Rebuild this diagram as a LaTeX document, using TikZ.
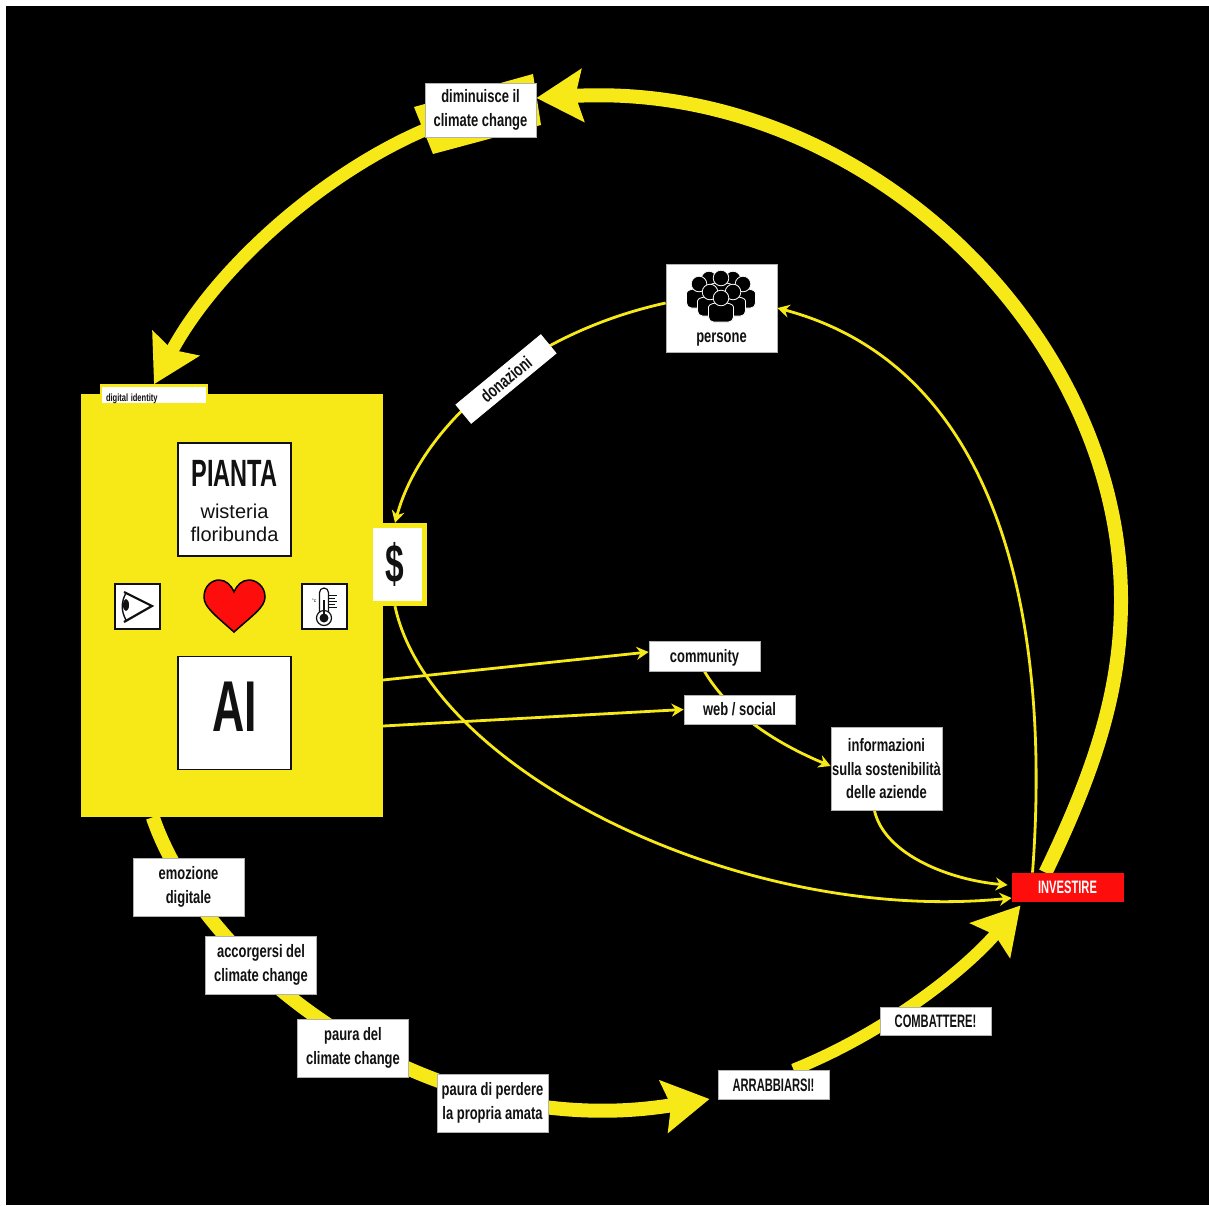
\documentclass[tikz,border=0pt]{standalone}
\usepackage{fontspec}
\setmainfont{Liberation Sans}
\newfontfamily\dinfont[FakeStretch=0.72]{Liberation Sans}
\newfontfamily\dincaps[FakeStretch=0.62]{Liberation Sans}
\usepackage{xcolor}
\usepackage{tikz}
\usetikzlibrary{arrows.meta,backgrounds}
\definecolor{cYellow}{HTML}{F7E918}
\definecolor{cRed}{HTML}{FE0D0D}
\definecolor{cInk}{HTML}{111111}
\tikzstyle{tsLabel} = [
    rectangle,
    fill=white,
    draw=gray!60,
    line width=0.8pt,
    text=cInk,
    inner sep=0pt,
    align=center,
    minimum width=111pt,
    font=\dinfont\bfseries\fontsize{18}{23.5}\selectfont
]
\tikzstyle{tsCaps} = [
    tsLabel,
    text height=13pt,
    text depth=0pt,
    font=\dincaps\bfseries\fontsize{18}{23.5}\selectfont
]
\tikzstyle{tsBlock} = [
    rectangle,
    fill=white,
    draw=cInk,
    line width=1.5pt,
    inner sep=0pt,
    align=center,
    text=cInk
]
\tikzstyle{tsThick} = [
    draw=cYellow,
    line width=14pt,
    -{Stealth[length=46pt,width=52pt,inset=7pt,fill=cYellow]}
]
\tikzstyle{tsThin} = [
    draw=cYellow,
    line width=2.8pt,
    -{Stealth[length=12pt,width=13pt,inset=4pt,fill=cYellow]}
]

\begin{document}
\begin{tikzpicture}[x=1pt,y=-1pt]
        \useasboundingbox (0,0) rectangle (1209,1205);

        % main yellow block
        \node[rectangle, fill=cYellow, minimum width=302pt, minimum height=423pt, inner sep=0pt] (plant) at (232,605.5) { };
        \node[rectangle, fill=white, draw=cYellow, line width=2.5pt, inner sep=0pt, minimum width=106pt, minimum height=19pt,
              text=cInk, text width=96pt, text height=13pt, text depth=1pt, align=left, font=\dinfont\bfseries\fontsize{10.5}{12}\selectfont] (digital) at (154,395) {digital\hspace{-1pt} identity};
        \node[tsBlock, minimum width=113pt, minimum height=113pt] (pianta) at (234.5,499.5) {};
        \node[text=cInk, inner sep=0pt, font=\dincaps\bfseries\fontsize{38}{40}\selectfont] (piantaname) at (234.5,473) {PIANTA};
        \node[text=cInk, inner sep=0pt, align=center, font=\fontsize{20}{23.5}\selectfont] (wisteria) at (234.5,523) {wisteria\\floribunda};
        \node[tsBlock, minimum width=113pt, minimum height=113pt] (ai) at (234.5,713) {};
        \node[text=cInk, inner sep=0pt, font=\dincaps\bfseries\fontsize{72}{72}\selectfont] (ainame) at (234.5,707) {AI};
        \node[tsBlock, minimum width=45pt, minimum height=45pt] (eye) at (137.5,606.5) {};
        \node[tsBlock, minimum width=45pt, minimum height=45pt] (thermo) at (324.5,606.5) {};
        \node[rectangle, fill=cYellow, inner sep=0pt, minimum width=54pt, minimum height=83pt] (dollarback) at (400,564.5) {};
        \node[rectangle, fill=white, inner sep=0pt, minimum width=49pt, minimum height=73pt,
              text=cInk, font=\dincaps\bfseries\fontsize{54}{54}\selectfont] (dollar) at (397.5,564.5) {\$\kern5pt};

        % labels
        \node[tsLabel, minimum height=54pt] (diminuisce) at (480.5,110) {diminuisce il\\climate change};
        \node[tsLabel, minimum height=88pt] (persone) at (721.5,308) {};
        \node[inner sep=0pt, text=cInk, font=\dinfont\bfseries\fontsize{18}{20}\selectfont] (personename) at (721.5,340) {persone};
        \node[tsLabel, fill=white, draw=white, minimum width=110pt, minimum height=24pt, rotate=39.5] (donazioni) at (506,379) {donazioni};
        \node[tsLabel, minimum height=30pt, text height=14pt, text depth=2pt] (community) at (704.5,656) {community};
        \node[tsLabel, minimum height=29pt] (web) at (739.5,709.5) {web / social};
        \node[tsLabel, minimum height=83pt] (info) at (886.5,769) {informazioni\\sulla sostenibilità\\delle aziende};
        \node[tsCaps, fill=cRed, draw=cRed, text=white, minimum height=28pt] (investire) at (1067.5,887) {INVESTIRE};
        \node[tsLabel, minimum height=58pt] (emozione) at (188.5,887) {emozione\\digitale};
        \node[tsLabel, minimum height=58pt] (accorgersi) at (261,965) {accorgersi del\\climate change};
        \node[tsLabel, minimum height=58pt] (paura) at (353,1048) {paura del\\climate change};
        \node[tsLabel, minimum height=58pt] (perdere) at (492.5,1103) {paura di perdere\\la propria amata};
        \node[tsCaps, minimum height=29pt] (arrabbiarsi) at (773.5,1084.5) {ARRABBIARSI!};
        \node[tsCaps, minimum height=28pt] (combattere) at (935.5,1021) {COMBATTERE!};

        % connectors go under the nodes
        \begin{scope}[on background layer]
        \fill[black] (6,6) rectangle (1209,1205);

        \fill[cYellow] (414,107) -- (533,74) -- (541,125) -- (433,154) -- cycle;
        \draw[tsThick] ([xshift=-22pt]investire.north) .. controls (1095,770) and (1121,690) .. (1121,600)
                       .. controls (1121,330) and (860,80) .. ([yshift=12pt]diminuisce.east);
        \draw[tsThick, line width=13pt] ([yshift=-20pt]diminuisce.west) .. controls (320,175) and (215,270) .. (digital.north);
        \draw[tsThick] (plant.south west) ++(72,0) .. controls (205,970) and (430,1145) .. ([xshift=-8pt,yshift=-14.5pt]arrabbiarsi.west);
        \draw[tsThick, line width=12pt] (arrabbiarsi.north) ++(20,0) .. controls (880,1035) and (960,975) .. ([xshift=-47pt,yshift=-4pt]investire.south);

        \draw[tsThin] ([yshift=5pt]persone.west) .. controls (520,335) and (420,430) .. ([xshift=-5pt]dollarback.north);
        \draw[tsThin] ([xshift=-35pt]investire.north) .. controls (1050,640) and (1010,370) .. (persone.east);
        \draw[tsThin] ([xshift=-5pt]dollarback.south) .. controls (430,770) and (740,925) .. ([yshift=-11pt]investire.west);
        \draw[tsThin] (383,680) -- ([yshift=4pt]community.west);
        \draw[tsThin] (383,726) -- (web.west);
        \draw[tsThin] (community.south) .. controls (730,715) and (780,745) .. ([yshift=3pt]info.west);
        \draw[tsThin] ([xshift=-12pt]info.south) .. controls (885,855) and (950,880) .. ([xshift=-4pt,yshift=2pt]investire.west);
        \end{scope}

        % heart
        \draw[fill=cRed, draw=black, line width=1.5pt] (234,632) .. controls (215,615) and (204,607) .. (204,597)
            .. controls (204,586) and (212,580) .. (219,580) .. controls (226,580) and (231,585) .. (234,592)
            .. controls (237,585) and (242,580) .. (249,580) .. controls (256,580) and (265,586) .. (265,597)
            .. controls (265,607) and (253,615) .. (234,632) -- cycle;

        % eye
        \draw[cInk, line width=2.2pt] (124,592) -- (152,606) -- (124,622);
        \draw[cInk, line width=1.4pt] (126,593) .. controls (121,602) and (121,611) .. (126,620);
        \fill[cInk] (126,605) ellipse (3 and 6);

        % thermometer
        \draw[cInk, line width=1.2pt] (319.5,612) -- (319.5,592.5) arc (180:360:4.5) -- (328.5,612);
        \draw[cInk, line width=1.2pt, fill=white] (324,618) circle (7.5);
        \fill[cInk] (324,618) circle (4.5);
        \draw[cInk, line width=2pt] (324,600) -- (324,616);
        \foreach \ty/\tl in {595/8, 598/6, 601/8, 604/6, 607/8}
            \draw[cInk, line width=1pt] (329,\ty) -- ++(\tl,0);
        \node[inner sep=0pt, text=cInk, font=\fontsize{5}{5}\selectfont] (celsius) at (314,601) {°c};

        % persone icon
        \foreach \px/\py in {709/279, 733/279, 721/278, 699/284, 743/284, 710/292, 733/292, 721/298} {
            \fill[black, draw=white, line width=0.8pt, rounded corners=5pt] (\px-12.5,\py+24) -- (\px-12.5,\py+14) .. controls (\px-12.5,\py+6) and (\px-6,\py+5) .. (\px,\py+5)
                .. controls (\px+6,\py+5) and (\px+12.5,\py+6) .. (\px+12.5,\py+14) -- (\px+12.5,\py+24) -- cycle;
            \fill[black, draw=white, line width=0.8pt] (\px,\py) circle (7.8);
        }
\end{tikzpicture}
\end{document}
